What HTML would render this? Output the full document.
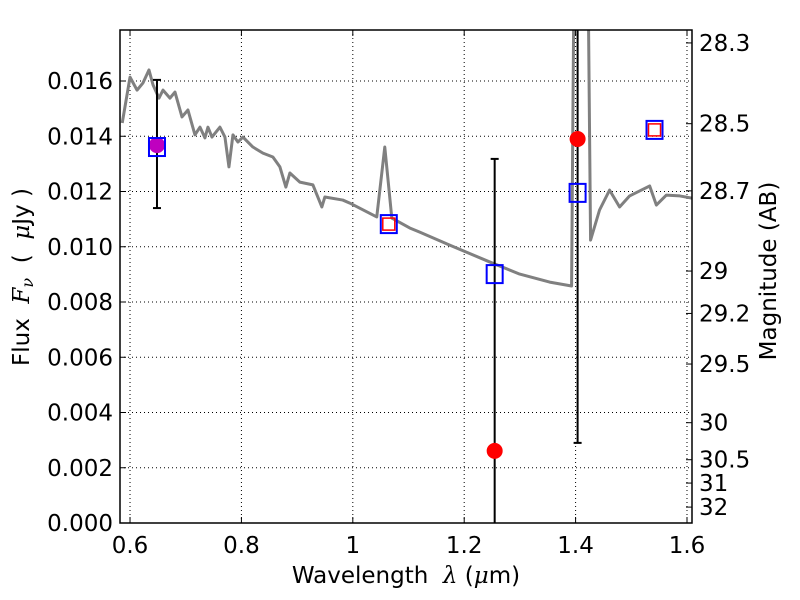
<!DOCTYPE html>
<html><head><meta charset="utf-8"><style>
html,body{margin:0;padding:0;background:#fff;width:800px;height:600px;overflow:hidden}
svg{display:block}
svg text{font-family:"DejaVu Sans","Liberation Sans",sans-serif;font-size:23px;fill:#000;white-space:pre}
</style></head><body>
<svg id="c" width="800" height="600" xmlns="http://www.w3.org/2000/svg"></svg>
<script>
const specWave=[0.586,0.600,0.6126,0.6233,0.634,0.6413,0.652,0.6592,0.6717,0.6807,0.6933,0.704,0.7166,0.7256,0.7345,0.7399,0.7471,0.7614,0.7704,0.7776,0.7848,0.7937,0.8027,0.8206,0.8386,0.8565,0.8691,0.8798,0.887,0.9049,0.9283,0.9444,0.9498,0.982,0.9946,1.043,1.0574,1.07,1.1022,1.1202,1.174,1.2457,1.2996,1.3534,1.3928,1.3964,1.4233,1.4269,1.443,1.461,1.479,1.497,1.533,1.545,1.563,1.587,1.609];
const specFlux=[0.01448,0.01614,0.01567,0.01593,0.0164,0.01586,0.01538,0.01567,0.01538,0.0156,0.0147,0.01495,0.01405,0.01433,0.01394,0.01433,0.01397,0.01433,0.01397,0.01289,0.01405,0.01379,0.01397,0.01361,0.01339,0.01325,0.01289,0.01216,0.01267,0.01234,0.01224,0.01144,0.0118,0.01169,0.01158,0.01108,0.01361,0.01104,0.01068,0.01053,0.01006,0.00945,0.00901,0.00872,0.00858,0.0179,0.0179,0.01024,0.01133,0.01205,0.01144,0.01184,0.0122,0.01151,0.01187,0.01184,0.01176];
const modelWave=[0.6484,1.0646,1.2547,1.4036,1.5417];
const modelFlux=[0.01361,0.01082,0.00901,0.01195,0.01423];
const redSqWave=[1.0646,1.5417];
const redSqFlux=[0.01082,0.01423];
const obsWave=[1.4036,1.2547];
const obsFlux=[0.0139,0.00261];
const purpleWave=[0.6484];
const purpleFlux=[0.01368];
const errWave=[0.6484,1.2547,1.4036];
const errLo=[0.0114,-0.001,0.0029];
const errHi=[0.01604,0.01318,0.0179];
const xTicks=[0.6,0.8,1.0,1.2,1.4,1.6];
const xTickLabels=["0.6","0.8","1","1.2","1.4","1.6"];
const yTicks=[0,0.002,0.004,0.006,0.008,0.010,0.012,0.014,0.016];
const yTickLabels=["0.000","0.002","0.004","0.006","0.008","0.010","0.012","0.014","0.016"];
const magTicks=[28.3,28.5,28.7,29,29.2,29.5,30,30.5,31,32];
const magTickLabels=["28.3","28.5","28.7","29","29.2","29.5","30","30.5","31","32"];

const L=120,R=692,T=30,B=523;
const xMin=0.582,xMax=1.609,yMin=0,yMax=(B-T)/27625;
const X=v=>L+(v-xMin)/(xMax-xMin)*(R-L);
const Y=v=>B-(v-yMin)/(yMax-yMin)*(B-T);
const svg=document.getElementById('c');
const NS='http://www.w3.org/2000/svg';
function mk(tag,attrs,parent){const e=document.createElementNS(NS,tag);for(const k in attrs)e.setAttribute(k,attrs[k]);(parent||svg).appendChild(e);return e;}

const defs=mk('defs',{});
const cp=mk('clipPath',{id:'clip'},defs);
mk('rect',{x:L,y:T,width:R-L,height:B-T},cp);

const grid=mk('g',{});


xTicks.forEach(t=>{mk('line',{x1:X(t),x2:X(t),y1:T,y2:B,stroke:'#000','stroke-width':1,'stroke-dasharray':'1,3'},grid);});
yTicks.forEach(t=>{mk('line',{x1:L,x2:R,y1:Y(t),y2:Y(t),stroke:'#000','stroke-width':1,'stroke-dasharray':'1,3'},grid);});

const plot=mk('g',{'clip-path':'url(#clip)'});
const sp=mk('polyline',{points:specWave.map((w,i)=>X(w)+','+Y(specFlux[i])).join(' '),fill:'none',stroke:'#808080','stroke-width':3,'stroke-linejoin':'round'},plot);


errWave.forEach((w,i)=>{
  const g=mk('g',{},plot);
  
  
  mk('line',{x1:X(w),x2:X(w),y1:Y(errLo[i]),y2:Y(errHi[i]),stroke:'#000','stroke-width':2},g);
  mk('line',{x1:X(w)-4,x2:X(w)+4,y1:Y(errLo[i]),y2:Y(errLo[i]),stroke:'#000','stroke-width':2},g);
  mk('line',{x1:X(w)-4,x2:X(w)+4,y1:Y(errHi[i]),y2:Y(errHi[i]),stroke:'#000','stroke-width':2},g);
});
purpleWave.forEach((w,i)=>{
  const c=mk('circle',{cx:X(w),cy:Y(purpleFlux[i]),r:8,fill:'#bf00bf'},plot);
  
  
});
modelWave.forEach((w,i)=>{
  const r=mk('rect',{x:X(w)-8,y:Y(modelFlux[i])-9,width:16,height:18,fill:'none',stroke:'#0000ff','stroke-width':2},plot);
  
  
});
redSqWave.forEach((w,i)=>{
  const r=mk('rect',{x:X(w)-6,y:Y(redSqFlux[i])-6,width:12,height:12,fill:'none',stroke:'#ff0000','stroke-width':1.5},plot);
  
  
});
obsWave.forEach((w,i)=>{
  const c=mk('circle',{cx:X(w),cy:Y(obsFlux[i]),r:8,fill:'#ff0000'},plot);
  
  
});

const fr=mk('rect',{x:L,y:T,width:R-L,height:B-T,fill:'none',stroke:'#000','stroke-width':1.5});



xTicks.forEach((t,i)=>{
  mk('line',{x1:X(t),x2:X(t),y1:B,y2:B-6,stroke:'#000'});
  mk('line',{x1:X(t),x2:X(t),y1:T,y2:T+6,stroke:'#000'});
  const tx=mk('text',{x:X(t),y:B+30,'text-anchor':'middle'});
  tx.textContent=xTickLabels[i];
  
  
});
yTicks.forEach((t,i)=>{
  mk('line',{x1:L,x2:L+6,y1:Y(t),y2:Y(t),stroke:'#000'});
  const tx=mk('text',{x:L-7,y:Y(t)+8,'text-anchor':'end'});
  tx.textContent=yTickLabels[i];
  
  
});
magTicks.forEach((m,i)=>{
  const f=Math.pow(10,(23.9-m)/2.5);
  const y=Y(f);
  mk('line',{x1:R,x2:R-6,y1:y,y2:y,stroke:'#000'});
  const tx=mk('text',{x:R+7,y:y+8,'text-anchor':'start'});
  tx.textContent=magTickLabels[i];
  
  
});

const xt=mk('text',{x:406,y:583,'text-anchor':'middle'});


xt.innerHTML='Wavelength  <tspan font-style="italic" font-family="DejaVu Serif,serif">λ</tspan> (<tspan font-style="italic" font-family="DejaVu Serif,serif">μ</tspan>m)';
const yt=mk('text',{transform:'translate(29,277) rotate(-90)','text-anchor':'middle'});


yt.innerHTML='Flux  <tspan font-style="italic" font-family="DejaVu Serif,serif">F</tspan><tspan font-style="italic" font-family="DejaVu Serif,serif" font-size="16" dy="4">ν</tspan><tspan dy="-4">  (  </tspan><tspan font-style="italic" font-family="DejaVu Serif,serif">μ</tspan>Jy )';
const rt=mk('text',{transform:'translate(776,271) rotate(-90)','text-anchor':'middle'});


rt.textContent='Magnitude (AB)';
</script>
</body></html>
